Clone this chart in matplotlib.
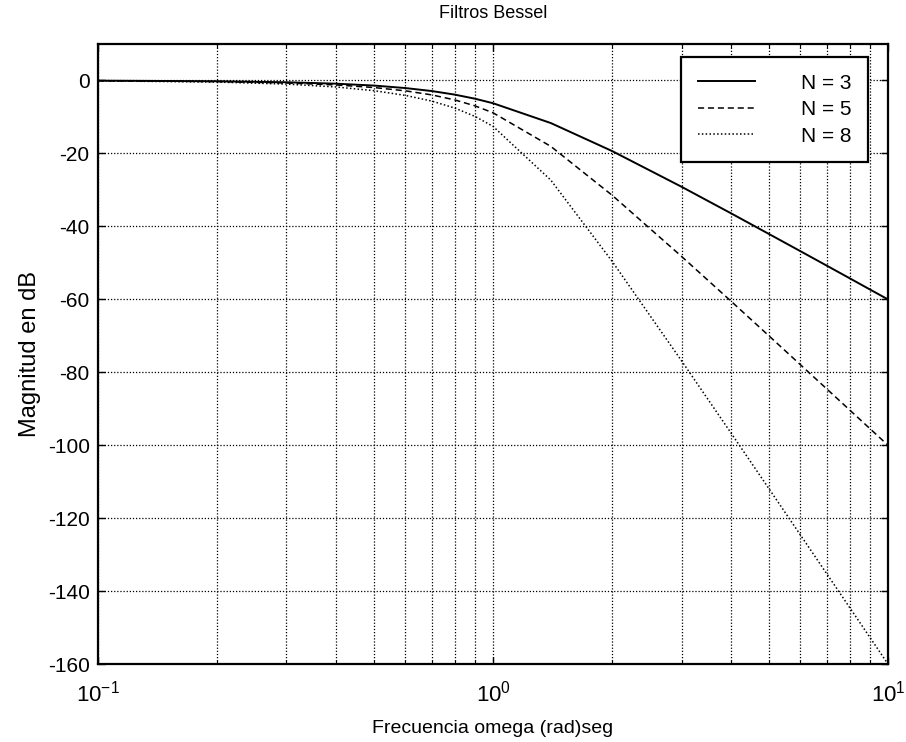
import numpy as np
import matplotlib
matplotlib.use('Agg')
import matplotlib.pyplot as plt

plt.rcParams['font.family'] = ['Liberation Sans', 'DejaVu Sans']
plt.rcParams['mathtext.fontset'] = 'custom'
plt.rcParams['mathtext.rm'] = 'Liberation Sans'

# frecuencias (rad/seg) y magnitud en dB de cada filtro
freq = [0.1, 0.2, 0.3, 0.4, 0.5, 0.6, 0.7, 0.8, 0.9, 1.0, 1.4, 2, 3, 4, 5, 6, 7, 8, 9, 10]
mag_n3 = [-0.05, -0.21, -0.49, -0.88, -1.40, -2.08, -2.90, -3.88, -5.00, -6.24, -11.67,
          -19.33, -29.14, -36.40, -42.12, -46.81, -50.79, -54.25, -57.31, -60.04]
mag_n5 = [-0.07, -0.30, -0.68, -1.22, -1.94, -2.84, -3.96, -5.33, -6.96, -8.86, -18.06,
          -31.43, -48.23, -60.48, -70.07, -77.94, -84.60, -90.38, -95.48, -100.04]
mag_n8 = [-0.11, -0.44, -0.99, -1.78, -2.80, -4.09, -5.66, -7.56, -9.85, -12.59, -27.31,
          -49.52, -76.85, -96.60, -112.01, -124.62, -135.30, -144.56, -152.73, -160.04]
labels = ['N = 3', 'N = 5', 'N = 8']

x_ticks = [0.1, 1, 10]
x_ticklabels = [r'$\mathregular{10^{-1}}$', r'$\mathregular{10^{0}}$', r'$\mathregular{10^{1}}$']
y_ticks = [0, -20, -40, -60, -80, -100, -120, -140, -160]

fig = plt.figure(figsize=(9.06, 7.42), dpi=100, facecolor='white')
ax = fig.add_axes((0.1082, 0.1051, 0.872, 0.8356))

ax.semilogx(freq, mag_n3, color='black', linewidth=1.4, linestyle='-', label=labels[0])
ax.semilogx(freq, mag_n5, color='black', linewidth=1.1, linestyle=(0, (4, 2.5)), label=labels[1])
ax.semilogx(freq, mag_n8, color='black', linewidth=1.1, linestyle=(0, (1, 1.5)), label=labels[2])

ax.set_xlim(0.1, 10)
ax.set_ylim(-160, 10)
ax.set_xticks(x_ticks)
ax.set_xticklabels(x_ticklabels)
ax.set_yticks(y_ticks)
ax.set_yticklabels([str(v) for v in y_ticks])

# rejilla punteada en todas las decadas
ax.grid(True, which='both', color='black', linestyle=(0, (1, 1.5)), linewidth=0.9)
ax.tick_params(which='both', direction='in', top=True, right=True, colors='black')
ax.tick_params(which='major', length=5, width=1)
ax.tick_params(which='minor', length=3, width=0.8)
ax.tick_params(axis='x', pad=12, labelsize=16)
ax.tick_params(axis='y', pad=6, labelsize=15)
for sp in ax.spines.values():
    sp.set_linewidth(1.6)

ax.set_title('Filtros Bessel', fontsize=13, pad=19)
ax.set_xlabel('Frecuencia omega (rad)seg', fontsize=14, labelpad=10)
ax.set_ylabel('Magnitud en dB', fontsize=17, labelpad=5)

leg = ax.legend(loc='upper right', bbox_to_anchor=(0.975, 0.979), borderaxespad=0,
                fontsize=15, handlelength=2.75, handletextpad=2.2, labelspacing=0.36,
                fancybox=False, framealpha=1, edgecolor='black', borderpad=0.8)
leg.get_frame().set_linewidth(1.6)

fig.savefig('out.png', dpi=100)
